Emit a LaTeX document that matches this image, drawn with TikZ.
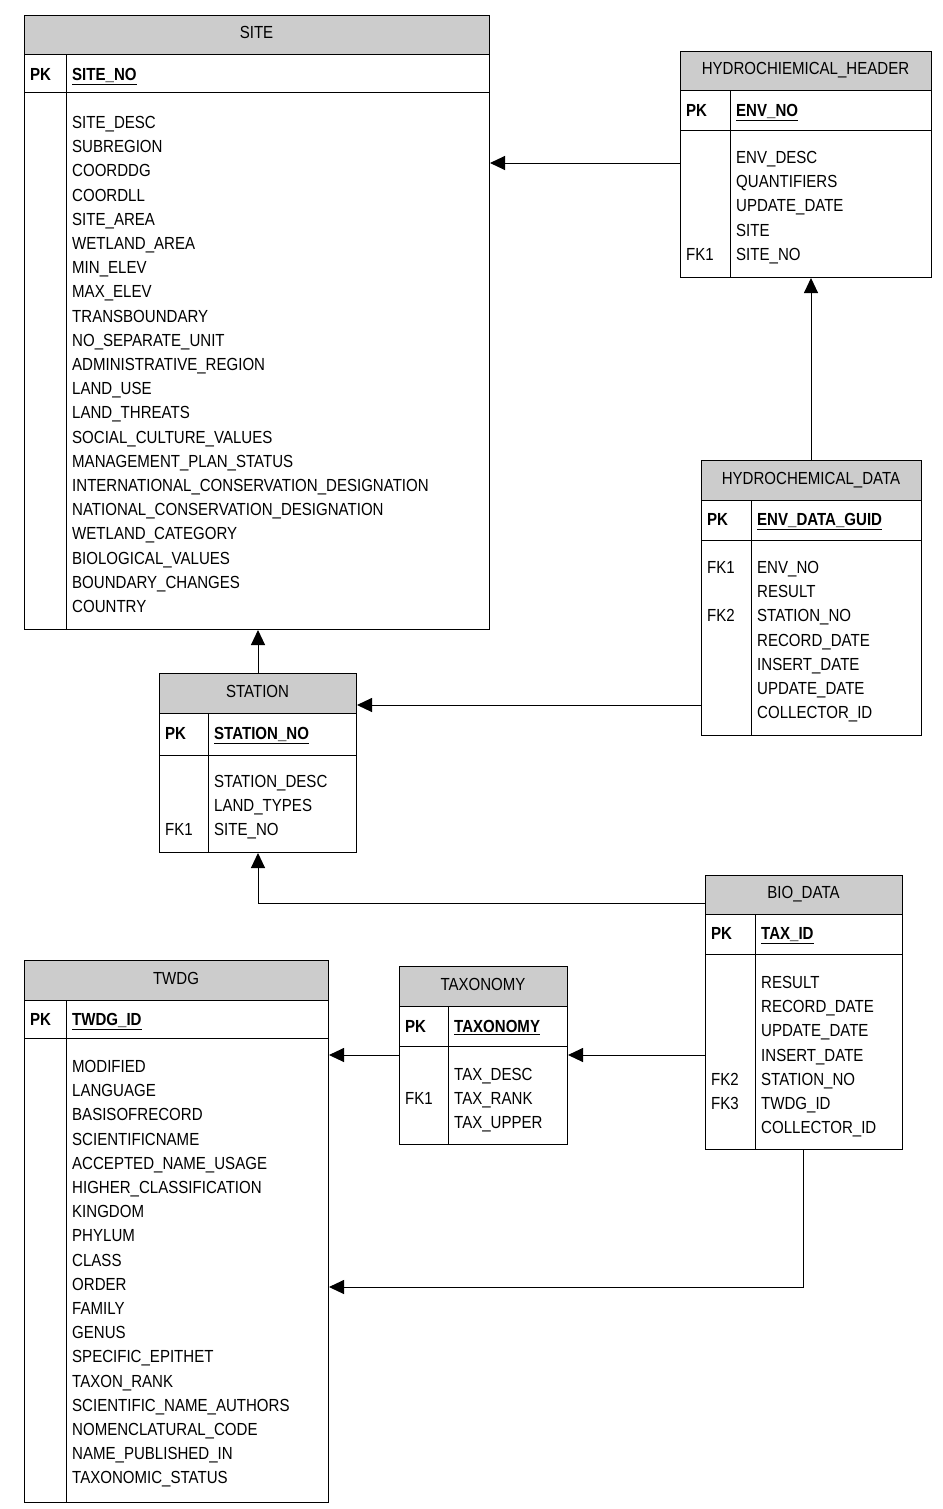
\documentclass[tikz,border=0pt]{standalone}
\usepackage{fontspec}
\setmainfont{Liberation Sans}[FakeStretch=0.86]
\usetikzlibrary{arrows.meta}
\newcommand\tb[9]{% id x1 x2 ytop yh ypk ybot xdiv title
 \fill[black!20] (#2,#4) rectangle (#3,#5);
 \draw[line width=1pt] (#2,#5)--(#3,#5) (#2,#6)--(#3,#6) (#8,#5)--(#8,#7);
 \node[draw,line width=1pt,minimum width=#3-#2,minimum height=#7-#4,inner sep=0,anchor=north west] (#1) at (#2,#4) {};
 \node[anchor=center,inner sep=0] (#1t) at ({(#2+#3)/2},{(#4+#5)/2}) {\strut #9};
}
\newcommand\fl[3]{\node[anchor=base west,inner sep=0] at (#1+6,#2+6.5) {#3};}
\newcommand\pk[4]{\node[anchor=base west,inner sep=0] at (#1+6,#3+6.5) {\textbf{PK}};
 \node[anchor=base west,inner sep=0] at (#2+6,#3+6.5) {\textbf{\underline{#4}}};}
\begin{document}
\begin{tikzpicture}[x=1pt,y=-1pt,font=\fontsize{17.5}{20}\selectfont,
 arr/.style={line width=1pt,-{Triangle[length=15pt,width=14pt]}}]
\useasboundingbox (0,0) rectangle (942,1509);
% SITE
\tb{site}{24}{489}{15}{55}{93}{629}{66}{SITE}
\pk{24}{66}{74}{SITE\_NO}
\foreach \t [count=\i from 0] in {SITE\_DESC,SUBREGION,COORDDG,COORDLL,SITE\_AREA,WETLAND\_AREA,MIN\_ELEV,MAX\_ELEV,TRANSBOUNDARY,NO\_SEPARATE\_UNIT,ADMINISTRATIVE\_REGION,LAND\_USE,LAND\_THREATS,SOCIAL\_CULTURE\_VALUES,MANAGEMENT\_PLAN\_STATUS,INTERNATIONAL\_CONSERVATION\_DESIGNATION,NATIONAL\_CONSERVATION\_DESIGNATION,WETLAND\_CATEGORY,BIOLOGICAL\_VALUES,BOUNDARY\_CHANGES,COUNTRY}
 {\fl{66}{122+24.2*\i}{\t}}
% HH
\tb{hh}{680}{931}{51}{91}{131}{277}{730}{HYDROCHIEMICAL\_HEADER}
\pk{680}{730}{110}{ENV\_NO}
\foreach \t [count=\i from 0] in {ENV\_DESC,QUANTIFIERS,UPDATE\_DATE,SITE,SITE\_NO}
 {\fl{730}{157+24.2*\i}{\t}}
\fl{680}{254}{FK1}
% HD
\tb{hd}{701}{921}{460}{500}{540}{735}{751}{HYDROCHEMICAL\_DATA}
\pk{701}{751}{519}{ENV\_DATA\_GUID}
\foreach \t [count=\i from 0] in {ENV\_NO,RESULT,STATION\_NO,RECORD\_DATE,INSERT\_DATE,UPDATE\_DATE,COLLECTOR\_ID}
 {\fl{751}{567+24.2*\i}{\t}}
\fl{701}{567}{FK1}\fl{701}{615.4}{FK2}
% STATION
\tb{st}{159}{356}{673}{713}{755}{852}{208}{STATION}
\pk{159}{208}{733}{STATION\_NO}
\foreach \t [count=\i from 0] in {STATION\_DESC,LAND\_TYPES,SITE\_NO}
 {\fl{208}{781+24.2*\i}{\t}}
\fl{159}{829.4}{FK1}
% BIO
\tb{bio}{705}{902}{875}{914}{954}{1149}{755}{BIO\_DATA}
\pk{705}{755}{933}{TAX\_ID}
\foreach \t [count=\i from 0] in {RESULT,RECORD\_DATE,UPDATE\_DATE,INSERT\_DATE,STATION\_NO,TWDG\_ID,COLLECTOR\_ID}
 {\fl{755}{982+24.2*\i}{\t}}
\fl{705}{1078.8}{FK2}\fl{705}{1103}{FK3}
% TAXONOMY
\tb{tax}{399}{567}{966}{1006}{1046}{1144}{448}{TAXONOMY}
\pk{399}{448}{1026}{TAXONOMY}
\foreach \t [count=\i from 0] in {TAX\_DESC,TAX\_RANK,TAX\_UPPER}
 {\fl{448}{1074+24.2*\i}{\t}}
\fl{399}{1098.2}{FK1}
% TWDG
\tb{tw}{24}{328}{960}{1000}{1038}{1502}{66}{TWDG}
\pk{24}{66}{1019}{TWDG\_ID}
\foreach \t [count=\i from 0] in {MODIFIED,LANGUAGE,BASISOFRECORD,SCIENTIFICNAME,ACCEPTED\_NAME\_USAGE,HIGHER\_CLASSIFICATION,KINGDOM,PHYLUM,CLASS,ORDER,FAMILY,GENUS,SPECIFIC\_EPITHET,TAXON\_RANK,SCIENTIFIC\_NAME\_AUTHORS,NOMENCLATURAL\_CODE,NAME\_PUBLISHED\_IN,TAXONOMIC\_STATUS}
 {\fl{66}{1066+24.2*\i}{\t}}
% connectors
\draw[arr] (hh.west|-0,163) -- (site.east|-0,163);
\draw[arr] (hd.north-|811,0) -- (hh.south-|811,0);
\draw[arr] (st.north-|258,0) -- (site.south-|258,0);
\draw[arr] (hd.west|-0,705) -- (st.east|-0,705);
\draw[arr] (bio.west|-0,903) -| (st.south-|258,0);
\draw[arr] (tax.west|-0,1055) -- (tw.east|-0,1055);
\draw[arr] (bio.west|-0,1055) -- (tax.east|-0,1055);
\draw[arr] (bio.south-|803,0) |- (tw.east|-0,1287);
\end{tikzpicture}
\end{document}
